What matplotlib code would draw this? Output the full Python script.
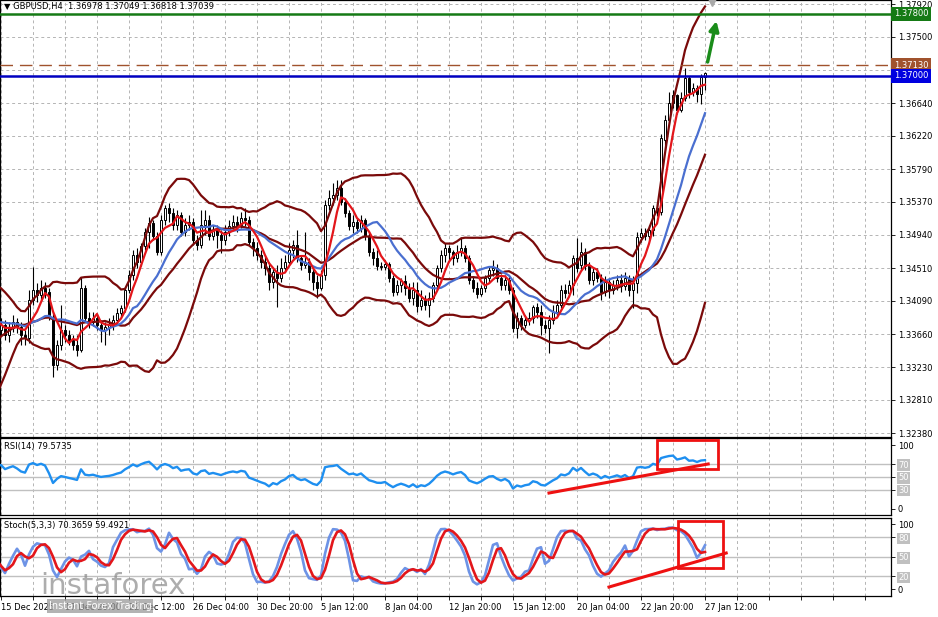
import numpy as np
import pandas as pd
import matplotlib
matplotlib.use('Agg')
import matplotlib.pyplot as plt
import matplotlib.transforms as mtransforms
from matplotlib.patches import Rectangle

plt.rcParams['font.family'] = 'DejaVu Sans'
plt.rcParams['font.size'] = 6

# H4 bars; the first 20 are warm-up bars left of the visible window
WARMUP = 20

opens = [
    1.3283, 1.3287, 1.3294, 1.3300, 1.3309, 1.3322, 1.3339, 1.3358, 1.3374, 1.3384,
    1.3387, 1.3378, 1.3391, 1.3382, 1.3371, 1.3384, 1.3395, 1.3387, 1.3374, 1.3382,
    1.3371, 1.3378, 1.3365, 1.3374, 1.3382, 1.3375, 1.3365, 1.3361, 1.3410, 1.3423,
    1.3416, 1.3426, 1.3420, 1.3388, 1.3326, 1.3352, 1.3371, 1.3365, 1.3358, 1.3352,
    1.3345, 1.3426, 1.3387, 1.3382, 1.3387, 1.3378, 1.3371, 1.3375, 1.3378, 1.3384,
    1.3393, 1.3400, 1.3423, 1.3442, 1.3468, 1.3459, 1.3480, 1.3498, 1.3509, 1.3493,
    1.3472, 1.3513, 1.3529, 1.3522, 1.3507, 1.3520, 1.3498, 1.3507, 1.3511, 1.3488,
    1.3481, 1.3507, 1.3513, 1.3493, 1.3500, 1.3494, 1.3488, 1.3498, 1.3506, 1.3511,
    1.3507, 1.3516, 1.3513, 1.3485, 1.3477, 1.3468, 1.3459, 1.3451, 1.3433, 1.3446,
    1.3438, 1.3451, 1.3459, 1.3475, 1.3481, 1.3464, 1.3455, 1.3459, 1.3446, 1.3433,
    1.3426, 1.3442, 1.3533, 1.3542, 1.3546, 1.3555, 1.3537, 1.3522, 1.3506, 1.3511,
    1.3503, 1.3513, 1.3493, 1.3472, 1.3464, 1.3454, 1.3453, 1.3457, 1.3438, 1.3420,
    1.3429, 1.3435, 1.3426, 1.3413, 1.3423, 1.3402, 1.3410, 1.3404, 1.3413, 1.3429,
    1.3451, 1.3468, 1.3477, 1.3472, 1.3464, 1.3472, 1.3477, 1.3464, 1.3436, 1.3426,
    1.3418, 1.3426, 1.3438, 1.3449, 1.3451, 1.3438, 1.3429, 1.3436, 1.3423, 1.3374,
    1.3387, 1.3378, 1.3384, 1.3387, 1.3401, 1.3395, 1.3378, 1.3374, 1.3384, 1.3395,
    1.3404, 1.3423, 1.3419, 1.3429, 1.3464, 1.3455, 1.3472, 1.3454, 1.3436, 1.3446,
    1.3438, 1.3420, 1.3433, 1.3423, 1.3429, 1.3436, 1.3428, 1.3438, 1.3423, 1.3432,
    1.3491, 1.3497, 1.3493, 1.3500, 1.3529, 1.3524, 1.3617, 1.3643, 1.3665, 1.3675,
    1.3655, 1.3671, 1.3697, 1.3679, 1.3684, 1.3676, 1.36978,
]
highs = [
    1.3296, 1.3300, 1.3307, 1.3317, 1.3330, 1.3345, 1.3365, 1.3380, 1.3391, 1.3395,
    1.3392, 1.3397, 1.3395, 1.3387, 1.3389, 1.3400, 1.3398, 1.3391, 1.3387, 1.3385,
    1.3387, 1.3384, 1.3382, 1.3391, 1.3387, 1.3382, 1.3371, 1.3423, 1.3453, 1.3432,
    1.3436, 1.3433, 1.3426, 1.3395, 1.3358, 1.3404, 1.3378, 1.3371, 1.3365, 1.3365,
    1.3440, 1.3429, 1.3395, 1.3395, 1.3391, 1.3384, 1.3382, 1.3387, 1.3391, 1.3400,
    1.3404, 1.3427, 1.3449, 1.3475, 1.3477, 1.3484, 1.3503, 1.3517, 1.3513, 1.3498,
    1.3520, 1.3533, 1.3535, 1.3529, 1.3526, 1.3524, 1.3516, 1.3520, 1.3516, 1.3494,
    1.3526, 1.3526, 1.3520, 1.3507, 1.3507, 1.3500, 1.3507, 1.3513, 1.3520, 1.3519,
    1.3524, 1.3529, 1.3519, 1.3490, 1.3485, 1.3475, 1.3468, 1.3459, 1.3451, 1.3455,
    1.3464, 1.3468, 1.3484, 1.3488, 1.3500, 1.3468, 1.3498, 1.3464, 1.3451, 1.3442,
    1.3449, 1.3539, 1.3552, 1.3561, 1.3565, 1.3565, 1.3542, 1.3526, 1.3520, 1.3516,
    1.3520, 1.3516, 1.3498, 1.3477, 1.3475, 1.3459, 1.3462, 1.3459, 1.3442, 1.3436,
    1.3438, 1.3442, 1.3432, 1.3433, 1.3433, 1.3423, 1.3416, 1.3420, 1.3433, 1.3455,
    1.3475, 1.3484, 1.3481, 1.3475, 1.3481, 1.3491, 1.3481, 1.3468, 1.3441, 1.3433,
    1.3429, 1.3442, 1.3454, 1.3462, 1.3457, 1.3444, 1.3442, 1.3441, 1.3427, 1.3395,
    1.3391, 1.3391, 1.3395, 1.3404, 1.3406, 1.3404, 1.3384, 1.3391, 1.3404, 1.3410,
    1.3429, 1.3431, 1.3436, 1.3468, 1.3490, 1.3485, 1.3477, 1.3459, 1.3451, 1.3451,
    1.3444, 1.3441, 1.3438, 1.3436, 1.3442, 1.3444, 1.3446, 1.3442, 1.3441, 1.3498,
    1.3503, 1.3503, 1.3507, 1.3533, 1.3537, 1.3624, 1.3649, 1.3679, 1.3681, 1.3676,
    1.3679, 1.3710, 1.3699, 1.3690, 1.3688, 1.3702, 1.37049,
]
lows = [
    1.3278, 1.3283, 1.3290, 1.3296, 1.3305, 1.3318, 1.3335, 1.3353, 1.3369, 1.3379,
    1.3371, 1.3374, 1.3375, 1.3365, 1.3366, 1.3379, 1.3382, 1.3369, 1.3370, 1.3366,
    1.3365, 1.3358, 1.3356, 1.3369, 1.3367, 1.3352, 1.3352, 1.3354, 1.3404, 1.3407,
    1.3410, 1.3413, 1.3384, 1.3311, 1.3320, 1.3345, 1.3356, 1.3352, 1.3345, 1.3338,
    1.3343, 1.3382, 1.3374, 1.3376, 1.3371, 1.3356, 1.3352, 1.3365, 1.3371, 1.3378,
    1.3387, 1.3395, 1.3419, 1.3436, 1.3451, 1.3454, 1.3475, 1.3477, 1.3488, 1.3468,
    1.3468, 1.3507, 1.3511, 1.3500, 1.3500, 1.3493, 1.3493, 1.3500, 1.3481, 1.3475,
    1.3477, 1.3494, 1.3488, 1.3488, 1.3477, 1.3471, 1.3481, 1.3493, 1.3500, 1.3498,
    1.3503, 1.3506, 1.3481, 1.3467, 1.3462, 1.3451, 1.3442, 1.3423, 1.3426, 1.3401,
    1.3433, 1.3446, 1.3455, 1.3464, 1.3459, 1.3449, 1.3451, 1.3436, 1.3423, 1.3413,
    1.3423, 1.3436, 1.3526, 1.3533, 1.3539, 1.3533, 1.3517, 1.3500, 1.3497, 1.3497,
    1.3498, 1.3488, 1.3467, 1.3455, 1.3449, 1.3449, 1.3449, 1.3433, 1.3415, 1.3416,
    1.3420, 1.3416, 1.3407, 1.3404, 1.3395, 1.3397, 1.3397, 1.3388, 1.3407, 1.3423,
    1.3446, 1.3459, 1.3462, 1.3455, 1.3459, 1.3467, 1.3459, 1.3431, 1.3420, 1.3413,
    1.3415, 1.3420, 1.3433, 1.3441, 1.3433, 1.3423, 1.3423, 1.3418, 1.3369, 1.3361,
    1.3371, 1.3374, 1.3378, 1.3380, 1.3387, 1.3365, 1.3367, 1.3342, 1.3379, 1.3389,
    1.3400, 1.3413, 1.3415, 1.3416, 1.3446, 1.3449, 1.3449, 1.3431, 1.3429, 1.3433,
    1.3410, 1.3415, 1.3413, 1.3418, 1.3423, 1.3420, 1.3423, 1.3415, 1.3400, 1.3419,
    1.3485, 1.3488, 1.3488, 1.3493, 1.3519, 1.3520, 1.3604, 1.3637, 1.3658, 1.3650,
    1.3653, 1.3667, 1.3671, 1.3674, 1.3666, 1.3663, 1.36818,
]
closes = [
    1.3287, 1.3294, 1.3300, 1.3309, 1.3322, 1.3339, 1.3358, 1.3374, 1.3384, 1.3387,
    1.3378, 1.3391, 1.3382, 1.3371, 1.3384, 1.3395, 1.3387, 1.3374, 1.3382, 1.3371,
    1.3378, 1.3365, 1.3374, 1.3382, 1.3375, 1.3365, 1.3361, 1.3410, 1.3423, 1.3416,
    1.3426, 1.3420, 1.3388, 1.3326, 1.3352, 1.3371, 1.3365, 1.3358, 1.3352, 1.3345,
    1.3426, 1.3387, 1.3382, 1.3387, 1.3378, 1.3371, 1.3375, 1.3378, 1.3384, 1.3393,
    1.3400, 1.3423, 1.3442, 1.3468, 1.3459, 1.3480, 1.3498, 1.3509, 1.3493, 1.3472,
    1.3513, 1.3529, 1.3522, 1.3507, 1.3520, 1.3498, 1.3507, 1.3511, 1.3488, 1.3481,
    1.3507, 1.3513, 1.3493, 1.3500, 1.3494, 1.3488, 1.3498, 1.3506, 1.3511, 1.3507,
    1.3516, 1.3513, 1.3485, 1.3477, 1.3468, 1.3459, 1.3451, 1.3433, 1.3446, 1.3438,
    1.3451, 1.3459, 1.3475, 1.3481, 1.3464, 1.3455, 1.3459, 1.3446, 1.3433, 1.3426,
    1.3442, 1.3533, 1.3542, 1.3546, 1.3555, 1.3537, 1.3522, 1.3506, 1.3511, 1.3503,
    1.3513, 1.3493, 1.3472, 1.3464, 1.3454, 1.3453, 1.3457, 1.3438, 1.3420, 1.3429,
    1.3435, 1.3426, 1.3413, 1.3423, 1.3402, 1.3410, 1.3404, 1.3413, 1.3429, 1.3451,
    1.3468, 1.3477, 1.3472, 1.3464, 1.3472, 1.3477, 1.3464, 1.3436, 1.3426, 1.3418,
    1.3426, 1.3438, 1.3449, 1.3451, 1.3438, 1.3429, 1.3436, 1.3423, 1.3374, 1.3387,
    1.3378, 1.3384, 1.3387, 1.3401, 1.3395, 1.3378, 1.3374, 1.3384, 1.3395, 1.3404,
    1.3423, 1.3419, 1.3429, 1.3464, 1.3451, 1.3472, 1.3454, 1.3436, 1.3446, 1.3438,
    1.3420, 1.3433, 1.3423, 1.3429, 1.3436, 1.3428, 1.3438, 1.3423, 1.3432, 1.3491,
    1.3497, 1.3493, 1.3500, 1.3529, 1.3524, 1.3619, 1.3643, 1.3665, 1.3675, 1.3655,
    1.3671, 1.3697, 1.3679, 1.3684, 1.3676, 1.3698, 1.37039,
]

date_bars = [0, 16, 32, 48, 64, 80, 96, 112, 128, 144, 160, 176]
date_labels = ['15 Dec 2025', '17 Dec 20:00', '22 Dec 12:00', '26 Dec 04:00',
               '30 Dec 20:00', '5 Jan 12:00', '8 Jan 04:00', '12 Jan 20:00',
               '15 Jan 12:00', '20 Jan 04:00', '22 Jan 20:00', '27 Jan 12:00']

price_ticks = [1.3792, 1.3750, 1.3707, 1.3664, 1.3622, 1.3579, 1.3537, 1.3494,
               1.3451, 1.3409, 1.3366, 1.3323, 1.3281, 1.3238]
price_tick_labels = ['1.37920', '1.37500', '', '1.36640', '1.36220', '1.35790', '1.35370',
                     '1.34940', '1.34510', '1.34090', '1.33660', '1.33230', '1.32810', '1.32380']

# horizontal levels drawn by the analyst
resistance = 1.3780
pivot = 1.3713
support = 1.3700

# analyst markup (bar, value)
arrow_from = (176.5, 1.3714)
arrow_to = (179.0, 1.3774)
rsi_box = (164.0, 62.0, 15.2, 45.5)
rsi_trend = [(137.0, 176.8), (24.6, 70.2)]
st_box = (169.2, 33.0, 11.3, 72.0)
st_trend = [(152.0, 181.3), (3.5, 55.8)]

df = pd.DataFrame({'open': opens, 'high': highs, 'low': lows, 'close': closes})
df['bar'] = np.arange(len(df)) - WARMUP

# indicators
close = df['close']
df['ma_fast'] = close.rolling(5).mean()
df['ma_slow'] = close.rolling(14).mean()
df['bb_mid'] = close.rolling(20).mean()
bb_std = close.rolling(20).std(ddof=0)
df['bb_up'] = df['bb_mid'] + 2 * bb_std
df['bb_lo'] = df['bb_mid'] - 2 * bb_std

delta = close.diff()
gain = delta.clip(lower=0).ewm(alpha=1 / 14, adjust=False).mean()
loss = (-delta.clip(upper=0)).ewm(alpha=1 / 14, adjust=False).mean()
df['rsi'] = 100 - 100 / (1 + gain / loss)

lowest = df['low'].rolling(5).min()
highest = df['high'].rolling(5).max()
df['stoch'] = 100 * (close - lowest).rolling(3).sum() / (highest - lowest).rolling(3).sum()
df['signal'] = df['stoch'].rolling(3).mean()

W, H = 938, 617
fig = plt.figure(figsize=(W / 100, H / 100), dpi=100)


def panel(top, bottom):
    return fig.add_axes([0, 1 - bottom / H, 891 / W, (bottom - top) / H])


ax = panel(0, 437)
ax_rsi = panel(438, 515)
ax_st = panel(518, 596)

grid_style = dict(color='#b4b4b4', linestyle=(0, (3, 3)), lw=0.7)
xticks = list(range(0, 223, 8))
for a in (ax, ax_rsi, ax_st):
    a.set_xlim(-0.25, 222.5)
    a.set_xticks(xticks)
    a.grid(axis='x', **grid_style)
    a.set_axisbelow(True)
    for s in a.spines.values():
        s.set_color('black')
        s.set_linewidth(0.9)
    a.tick_params(axis='y', right=True, left=False, labelright=True, labelleft=False,
                  length=3, width=0.6, pad=2, labelsize=6)
    a.tick_params(axis='x', length=0, labelbottom=False)

# ---- main price panel
ax.set_ylim(1.32330, 1.37976)
ax.set_yticks(price_ticks)
ax.set_yticklabels(price_tick_labels)
ax.grid(axis='y', **grid_style)

up = df['close'] >= df['open']
ax.vlines(df['bar'], df['low'], df['high'], color='black', lw=0.8, zorder=2)
ax.bar(df['bar'], (df['close'] - df['open']).abs(), bottom=np.minimum(df['open'], df['close']),
       width=0.62, color=np.where(up, 'white', 'black'), edgecolor='black', lw=0.7, zorder=3)

band_col = '#7a0a0a'
ax.plot(df['bar'], df['bb_up'], color=band_col, lw=1.6, zorder=4)
ax.plot(df['bar'], df['bb_lo'], color=band_col, lw=1.6, zorder=4)
ax.plot(df['bar'], df['bb_mid'], color=band_col, lw=1.6, zorder=4)
ax.plot(df['bar'], df['ma_slow'], color='#4a6fd0', lw=1.6, zorder=4)
ax.plot(df['bar'], df['ma_fast'], color='#e3161b', lw=1.6, zorder=4)

ax.axhline(resistance, color='#157a15', lw=1.8, zorder=5)
ax.axhline(pivot, color='#a0522d', lw=1, ls=(0, (9, 5)), zorder=5)
ax.axhline(support, color='#0000c0', lw=1.8, zorder=5)

ytrans = mtransforms.blended_transform_factory(ax.transAxes, ax.transData)
for lvl, txt, col in [(resistance, '1.37800', '#157a15'), (pivot, '1.37130', '#a0522d'),
                      (support, '1.37000', '#0000e0')]:
    ax.text(1.003, lvl, txt, transform=ytrans, ha='left', va='center', color='white',
            fontsize=6, zorder=10, clip_on=False,
            bbox=dict(boxstyle='square,pad=0.3', fc=col, ec='none'))

ax.annotate('', xy=arrow_to, xytext=arrow_from,
            arrowprops=dict(arrowstyle='-|>', color='#1a8c1a', lw=2.5, mutation_scale=14),
            zorder=6)
ax.plot(177.8, 1.37960, marker='v', color='#a8a8a8', ms=7, clip_on=False, zorder=6)

ax.text(0.004, 0.984, '\u25bc GBPUSD,H4  1.36978 1.37049 1.36818 1.37039',
        transform=ax.transAxes, va='center', ha='left', fontsize=6, zorder=10)

# ---- RSI panel
ax_rsi.set_ylim(-9.9, 111)
ax_rsi.set_yticks([0, 30, 50, 70, 100])
ax_rsi.set_yticklabels(['0', '30', '50', '70', '100'])
for lvl in (30, 50, 70):
    ax_rsi.axhline(lvl, color='#c0c0c0', lw=1, zorder=1)
ax_rsi.plot(df['bar'], df['rsi'], color='#1e8ff0', lw=1.7, zorder=3)
ax_rsi.text(0.004, 0.89, 'RSI(14) 79.5735', transform=ax_rsi.transAxes, va='center', fontsize=6)
ax_rsi.add_patch(Rectangle(rsi_box[:2], rsi_box[2], rsi_box[3], fill=False, ec='#ee1111', lw=2,
                           zorder=5, clip_on=False))
ax_rsi.plot(rsi_trend[0], rsi_trend[1], color='#ee1111', lw=2.2, zorder=5)

# ---- Stochastic panel
ax_st.set_ylim(-10.3, 109.7)
ax_st.set_yticks([0, 20, 50, 80, 100])
ax_st.set_yticklabels(['0', '20', '50', '80', '100'])
for lvl in (20, 50, 80):
    ax_st.axhline(lvl, color='#c0c0c0', lw=1, zorder=1)
ax_st.plot(df['bar'], df['stoch'], color='#6d93e6', lw=1.9, zorder=3)
ax_st.plot(df['bar'], df['signal'], color='#e3161b', lw=1.9, zorder=4)
ax_st.text(0.004, 0.91, 'Stoch(5,3,3) 70.3659 59.4921', transform=ax_st.transAxes,
           va='center', fontsize=6)
ax_st.add_patch(Rectangle(st_box[:2], st_box[2], st_box[3], fill=False, ec='#ee1111', lw=2,
                          zorder=5, clip_on=False))
ax_st.plot(st_trend[0], st_trend[1], color='#ee1111', lw=2.2, zorder=5)

# boxed level labels in the oscillators
for a, boxed in ((ax_rsi, ('30', '50', '70')), (ax_st, ('20', '50', '80'))):
    for lbl in a.get_yticklabels():
        if lbl.get_text() in boxed:
            lbl.set_color('white')
            lbl.set_bbox(dict(boxstyle='square,pad=0.15', fc='#c0c0c0', ec='none'))

# time axis
xlabels = ['' for _ in xticks]
for b, lab in zip(date_bars, date_labels):
    xlabels[xticks.index(b)] = lab
ax_st.set_xticklabels(xlabels)
ax_st.tick_params(axis='x', length=3, width=0.6, labelbottom=True, pad=2, labelsize=6)
for lbl in ax_st.get_xticklabels():
    lbl.set_ha('left')

# watermark
fig.text(0.043, 0.028, 'instaforex', fontsize=21, color='#8a8a8a', alpha=0.7,
         ha='left', va='bottom')
fig.text(0.052, 0.010, 'Instant Forex Trading', fontsize=7, color='white', ha='left',
         va='bottom', bbox=dict(boxstyle='square,pad=0.2', fc='#9a9a9a', ec='none', alpha=0.75))

fig.savefig('out.png', dpi=100, facecolor='white')
